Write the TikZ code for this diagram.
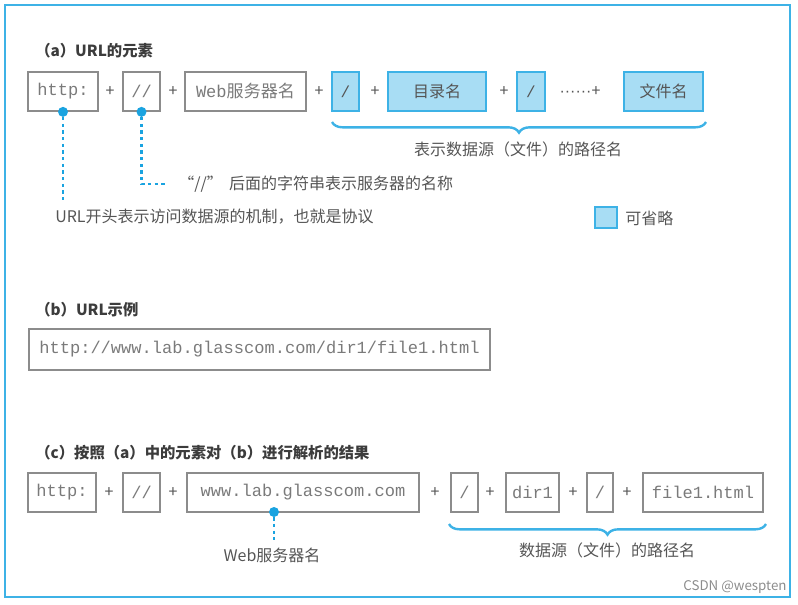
\documentclass[tikz,border=0pt]{standalone}
\usepackage{fontspec}
\setmainfont{Noto Sans CJK SC}
\setmonofont{Liberation Mono}
\newfontfamily\dotfont{Liberation Sans}
\usetikzlibrary{positioning,decorations.pathreplacing}
\definecolor{UrlBlue}{HTML}{3DB2E6}
\definecolor{UrlBlueLight}{HTML}{A8DDF4}
\definecolor{UrlDot}{HTML}{1AA3E0}
\definecolor{UrlLine}{HTML}{8C8C8C}
\definecolor{UrlMono}{HTML}{7A7A7A}
\definecolor{UrlText}{HTML}{555555}
\definecolor{UrlTitle}{HTML}{3C3C3C}

\begin{document}
\begin{tikzpicture}[x=0.75pt,y=-0.75pt]
    \tikzset{urlpart/.style={draw=UrlLine,line width=1.3pt,minimum width={#1*0.75pt},minimum height=29.25pt,
      inner sep=0pt,text=UrlMono,font=\ttfamily\fontsize{12.8}{14}\selectfont},
      urlopt/.style={urlpart={#1},draw=UrlBlue,fill=UrlBlueLight,text=UrlText,font=\fontsize{12}{14}\selectfont},
      urlplus/.style={inner sep=0pt,text=UrlText,font=\fontsize{12}{14}\selectfont},
      urltitle/.style={inner sep=0pt,anchor=west,text=UrlTitle,font=\bfseries\fontsize{11.5}{14}\selectfont},
      urlnote/.style={inner sep=0pt,text=UrlText,font=\fontsize{12}{14}\selectfont},
      urldot/.style={circle,fill=UrlDot,inner sep=0pt,minimum size=7.5pt},
      urlleader/.style={UrlDot,line width=2.2pt,dash pattern=on 2.5pt off 2.5pt},
      urlbrace/.style={UrlBlue,line width=1.8pt,decorate,decoration={brace,amplitude=8pt}}}
    \useasboundingbox (0,0) rectangle (798,605);
    \draw[UrlBlue,line width=2.2pt] (5,5) rectangle (790,597);
    \node[urltitle] (titlea) at (35,51) {（a）URL的元素};
    \node[urlpart={70}] (proto) at (63,91.5) {http:};
    \node[urlplus] (pa1) at (110,91.5) {+};
    \node[urlpart={37}] (sep) at (141.5,91.5) {//};
    \node[urlplus] (pa2) at (173,91.5) {+};
    \node[urlpart={121}] (host) at (245.5,91.5) {Web\textrm{服务器名}};
    \node[urlplus] (pa3) at (319,91.5) {+};
    \node[urlopt={27}] (slasha) at (345.5,91.5) {\texttt{/}};
    \node[urlplus] (pa4) at (375,91.5) {+};
    \node[urlopt={98}] (dir) at (437,91.5) {目录名};
    \node[urlplus] (pa5) at (504,91.5) {+};
    \node[urlopt={28}] (slashb) at (531,91.5) {\texttt{/}};
    \node[urlplus] (pa6) at (580,91.5) {{\dotfont ······}+};
    \node[urlopt={79}] (file) at (663.5,91.5) {文件名};
    \node[urldot] (protodot) at (proto.south) {};
    \node[urldot] (sepdot) at (sep.south) {};
    \coordinate (protoend) at (63,200);
    \coordinate (sepend) at (167,184);
    \draw[urlleader] (protodot) -- (protoend);
    \draw[urlleader] (sepdot) |- (sepend);
    \node[urlnote,anchor=west] (sepnote) at (178,184) {“//”\hspace{0.4em}后面的字符串表示服务器的名称};
    \node[urlnote,anchor=west] (protonote) at (55,217) {URL开头表示访问数据源的机制，也就是协议};
    \coordinate (pathleft) at (332,122);
    \coordinate (pathright) at (706,122);
    \draw[urlbrace] (pathright) -- (pathleft);
    \node[urlnote] (pathnote) at (518,149) {表示数据源（文件）的路径名};
    \node[urlopt={22},minimum height=15.75pt] (keybox) at (606,217.5) {};
    \node[urlnote,anchor=west] (keynote) at (625,218) {可省略};
    \node[urltitle] (titleb) at (35,310) {（b）URL示例};
    \node[urlpart={461},minimum height=30.75pt] (sample) at (259.5,349.5) {http://www.lab.glasscom.com/dir1/file1.html};
    \node[urltitle] (titlec) at (35,453) {（c）按照（a）中的元素对（b）进行解析的结果};
    \node[urlpart={68}] (cproto) at (62,492.5) {http:};
    \node[urlplus] (pc1) at (109,492.5) {+};
    \node[urlpart={37}] (csep) at (141.5,492.5) {//};
    \node[urlplus] (pc2) at (173,492.5) {+};
    \node[urlpart={232}] (chost) at (303,492.5) {www.lab.glasscom.com};
    \node[urlplus] (pc3) at (435,492.5) {+};
    \node[urlpart={27}] (cslasha) at (464.5,492.5) {/};
    \node[urlplus] (pc4) at (490,492.5) {+};
    \node[urlpart={53}] (cdir) at (532.5,492.5) {dir1};
    \node[urlplus] (pc5) at (573,492.5) {+};
    \node[urlpart={26}] (cslashb) at (600,492.5) {/};
    \node[urlplus] (pc6) at (627,492.5) {+};
    \node[urlpart={120}] (cfile) at (703,492.5) {file1.html};
    \node[urldot] (chostdot) at (274,512) {};
    \coordinate (chostend) at (274,540);
    \draw[urlleader] (chostdot) -- (chostend);
    \node[urlnote] (chostnote) at (272,555) {Web服务器名};
    \coordinate (cpathleft) at (449,524);
    \coordinate (cpathright) at (766,524);
    \draw[urlbrace] (cpathright) -- (cpathleft);
    \node[urlnote] (cpathnote) at (607,550) {数据源（文件）的路径名};
    \node[inner sep=0pt,text=UrlLine,font=\fontsize{10}{12}\selectfont] (mark) at (735,587) {CSDN @wespten};
  \end{tikzpicture}
\end{document}
